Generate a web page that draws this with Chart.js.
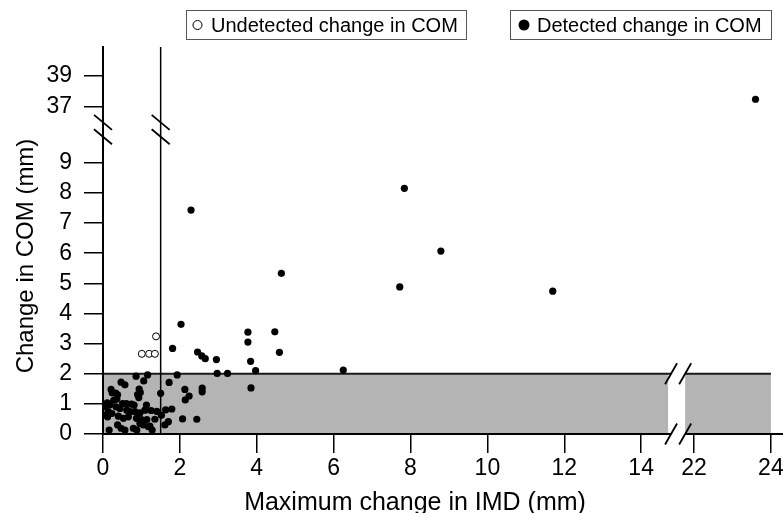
<!DOCTYPE html>
<html>
<head>
<meta charset="utf-8">
<script src="https://cdn.jsdelivr.net/npm/chart.js@4.4.0/dist/chart.umd.min.js"></script>
<style>
  html, body { margin: 0; padding: 0; background: #fff; }
  canvas { display: block; }
</style>
</head>
<body>
<canvas id="comChart" width="783" height="513"></canvas>
<script>
// detected change in COM (filled dots), mm
const detX = [23.6, 7.84, 8.79, 7.72, 11.70, 2.29, 4.64, 2.03, 1.81, 2.46, 2.57, 2.66, 2.95, 2.97, 3.24,
  3.77, 3.77, 3.84, 3.97, 3.85, 4.47, 4.59, 6.25, 1.93, 1.72, 2.13, 2.24, 2.14, 2.58, 2.58,
  1.50, 1.63, 1.79, 1.40, 1.25, 1.35, 1.70, 1.61, 2.07, 2.44, 1.22, 1.52,
  0.86, 1.16, 1.06, 0.47, 0.57, 0.94, 0.33, 0.38, 0.90, 0.93, 0.28, 0.36, 0.21, 0.24, 0.97,
  0.11, 0.18, 0.07, 0.51, 0.61, 0.74, 0.81, 1.13, 0.34, 0.44, 0.14, 0.23, 0.62, 0.70, 0.83, 0.96, 1.09,
  0.05, 0.12, 0.40, 0.53, 0.66, 0.87, 1.00, 1.14, 0.96, 1.05, 0.38, 0.47, 0.57, 0.16, 0.79, 0.88,
  1.18, 1.28, 0.01];
const detY = [37.5, 8.15, 6.07, 4.88, 4.74, 7.43, 5.33, 3.64, 2.84, 2.72, 2.59, 2.50, 2.47, 2.01, 2.01,
  3.38, 3.05, 2.41, 2.10, 1.53, 3.39, 2.71, 2.12, 1.96, 1.71, 1.48, 1.26, 1.13, 1.52, 1.40,
  1.35, 0.80, 0.83, 0.75, 0.78, 0.49, 0.41, 0.30, 0.50, 0.49, 0.26, 0.62,
  1.92, 1.96, 1.76, 1.72, 1.63, 1.49, 1.36, 1.30, 1.31, 1.21, 1.12, 1.16, 1.48, 1.36, 1.38,
  1.03, 0.97, 0.90, 1.01, 1.01, 0.99, 0.96, 0.96, 0.90, 0.85, 0.74, 0.68, 0.79, 0.74, 0.74, 0.70, 0.79,
  0.63, 0.57, 0.59, 0.52, 0.57, 0.52, 0.48, 0.48, 0.35, 0.30, 0.30, 0.19, 0.13, 0.13, 0.19, 0.13,
  0.24, 0.13, 0.92];
// undetected change in COM (open circles)
const undX = [1.01, 1.20, 1.35, 1.38];
const undY = [2.66, 2.66, 2.66, 3.24];

const xTicks = [0, 2, 4, 6, 8, 10, 12, 14, 22, 24];
const yTicks = [0, 1, 2, 3, 4, 5, 6, 7, 8, 9, 37, 39];
const threshX = 1.5;   // vertical line
const bandTop = 2;     // grey band 0..2 mm
const bandEnd = 24;
const xCut = [14.7, 21.77];  // where the x axis is broken

// broken axes: squeeze 15..22 on x and 10..37 on y
function fx(v) { return v <= 15 ? v : v - 22 + 15.375; }
function fy(v) { return v <= 10 ? v : 10.85 + (v - 37) * 0.514; }

const FONT = '"Liberation Sans", Arial, Helvetica, sans-serif';

const decor = {
  id: 'decor',
  beforeDraw(chart) {
    const {ctx, chartArea: a, scales: {x, y}} = chart;
    const px = v => x.getPixelForValue(fx(v));
    const py = v => y.getPixelForValue(fy(v));
    ctx.save();
    ctx.fillStyle = '#b4b4b4';
    ctx.fillRect(px(0), py(bandTop), px(xCut[0]) - px(0), py(0) - py(bandTop));
    ctx.fillRect(px(xCut[1]), py(bandTop), px(bandEnd) - px(xCut[1]), py(0) - py(bandTop));
    ctx.strokeStyle = '#1a1a1a';
    ctx.lineWidth = 2;
    ctx.beginPath();
    ctx.moveTo(px(0), py(bandTop)); ctx.lineTo(px(xCut[0]) + 3, py(bandTop));
    ctx.moveTo(px(xCut[1]), py(bandTop)); ctx.lineTo(px(bandEnd), py(bandTop));
    ctx.stroke();
    ctx.strokeStyle = '#000';
    ctx.lineWidth = 1.5;
    ctx.beginPath();
    ctx.moveTo(px(threshX), py(0)); ctx.lineTo(px(threshX), a.top);
    ctx.stroke();
    ctx.restore();
  },
  beforeDatasetsDraw(chart) {
    const {ctx, scales: {x, y}} = chart;
    const px = v => x.getPixelForValue(fx(v));
    const py = v => y.getPixelForValue(fy(v));
    ctx.save();
    // gap in the x axis line
    const g0 = px(xCut[0]) + 3, g1 = px(xCut[1]);
    ctx.fillStyle = '#fff';
    ctx.fillRect(g0, py(0) - 3, g1 - g0, 6);
    ctx.strokeStyle = '#000';
    ctx.lineWidth = 1.8;
    ctx.beginPath();
    // x breaks "//"
    [py(0), py(bandTop)].forEach(cy => {
      [g0, g1].forEach(cx => { ctx.moveTo(cx - 6, cy + 10.5); ctx.lineTo(cx + 6, cy - 10.5); });
    });
    // y breaks "\\"
    const yb = y.getPixelForValue(10.1);
    [px(0), px(threshX)].forEach(cx => {
      [yb - 7.2, yb + 7.2].forEach(cy => { ctx.moveTo(cx - 9, cy - 7.5); ctx.lineTo(cx + 9, cy + 7.5); });
    });
    ctx.stroke();
    ctx.restore();
  },
  afterDraw(chart) {
    const ctx = chart.ctx;
    ctx.save();
    ctx.fillStyle = '#000';
    ctx.textBaseline = 'alphabetic';
    ctx.textAlign = 'center';
    // axis titles
    ctx.font = '25px ' + FONT;
    ctx.fillText('Maximum change in IMD (mm)', 415, 510);
    ctx.font = '24px ' + FONT;
    ctx.translate(33, 256);
    ctx.rotate(-Math.PI / 2);
    ctx.fillText('Change in COM (mm)', 0, 0);
    ctx.restore();

    // legend boxes
    ctx.save();
    ctx.strokeStyle = '#555';
    ctx.lineWidth = 1;
    ctx.strokeRect(186.5, 10.5, 280, 29);
    ctx.strokeRect(510.5, 10.5, 261, 29);
    ctx.font = '20px ' + FONT;
    ctx.fillStyle = '#000';
    ctx.textAlign = 'left';
    ctx.fillText('Undetected change in COM', 211, 32);
    ctx.fillText('Detected change in COM', 537, 32);
    ctx.beginPath();
    ctx.arc(197.5, 25, 4.5, 0, Math.PI * 2);
    ctx.strokeStyle = '#000';
    ctx.stroke();
    ctx.beginPath();
    ctx.arc(524, 25, 5.5, 0, Math.PI * 2);
    ctx.fill();
    ctx.restore();
  }
};

const detected = detX.map((v, i) => ({x: fx(v), y: fy(detY[i])}));
const undetected = undX.map((v, i) => ({x: fx(v), y: fy(undY[i])}));

const tickFont = {family: FONT, size: 23};

new Chart(document.getElementById('comChart'), {
  type: 'scatter',
  data: {
    datasets: [{
      label: 'Detected change in COM',
      data: detected,
      pointRadius: 3.6,
      backgroundColor: '#000',
      borderWidth: 0
    }, {
      label: 'Undetected change in COM',
      data: undetected,
      pointRadius: 3.5,
      backgroundColor: '#fff',
      borderColor: '#000',
      borderWidth: 1
    }]
  },
  options: {
    responsive: false,
    animation: false,
    layout: {autoPadding: false, padding: {top: 47, right: 0, bottom: 0, left: 0}},
    plugins: {legend: {display: false}, tooltip: {enabled: false}},
    scales: {
      x: {
        type: 'linear', min: 0, max: 17.69,
        afterFit: s => { s.height = 79; s.paddingLeft = 0; s.paddingRight = 0; },
        afterBuildTicks: s => { s.ticks = xTicks.map(v => ({value: fx(v)})); },
        ticks: {callback: (v, i) => xTicks[i], font: tickFont, color: '#000', padding: 2, maxRotation: 0, autoSkip: false},
        grid: {drawOnChartArea: false, tickLength: 19, color: '#000', lineWidth: 1.5},
        border: {color: '#000', width: 2}
      },
      y: {
        type: 'linear', min: 0, max: 12.84,
        afterFit: s => { s.width = 103; s.paddingTop = 0; s.paddingBottom = 0; },
        afterBuildTicks: s => { s.ticks = yTicks.map(v => ({value: fy(v)})); },
        ticks: {callback: (v, i) => yTicks[i], font: tickFont, color: '#000', padding: 12, autoSkip: false},
        grid: {drawOnChartArea: false, tickLength: 19, color: '#000', lineWidth: 1.5},
        border: {color: '#000', width: 2}
      }
    }
  },
  plugins: [decor]
});
</script>
</body>
</html>
